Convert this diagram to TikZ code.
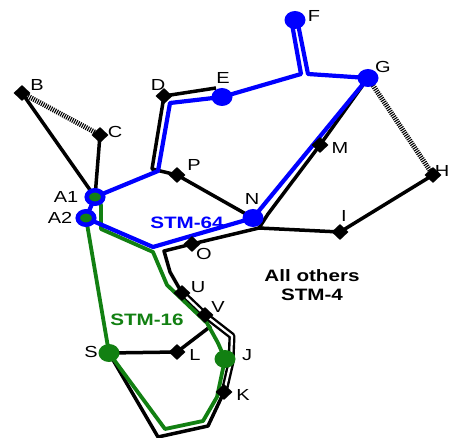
\documentclass[tikz,border=0pt]{standalone}
\usepackage{fontspec}
\setmainfont{Liberation Sans}
\usepackage{graphicx}
\usetikzlibrary{shapes.geometric}
\definecolor{myblue}{RGB}{0,0,255}
\definecolor{mygreen}{RGB}{18,128,18}
\newcommand{\wide}[1]{\scalebox{1.25}[1]{#1}}
\pgfdeclarelayer{bg}
\pgfsetlayers{bg,main}
\begin{document}
\begin{tikzpicture}[x=1pt,y=-1pt,
  blk/.style={line width=3.5pt, black, line join=round},
  blu/.style={line width=4.2pt, myblue, line join=round},
  grn/.style={line width=3.8pt, mygreen, line join=round},
  hatch/.style={line width=5pt, black, dash pattern=on 1.1pt off 1.1pt},
  dbl/.style={line width=2.4pt, black, double=white, double distance=2.2pt, line join=round},
  dia/.style={diamond, fill=black, inner sep=0pt, minimum width=17pt, minimum height=16pt},
  bdot/.style={ellipse, fill=myblue, inner sep=0pt, minimum width=21pt, minimum height=18pt},
  gdot/.style={ellipse, fill=mygreen, inner sep=0pt, minimum width=21pt, minimum height=18pt},
  ring/.style={ellipse, fill=mygreen, draw=myblue, line width=4.5pt, inner sep=0pt, minimum width=16.5pt, minimum height=13.5pt},
  lab/.style={font=\fontsize{16}{18}\selectfont, inner sep=0pt},
  ttl/.style={font=\bfseries\fontsize{16.5}{20}\selectfont, inner sep=0pt, align=center}
]
\useasboundingbox (0,0) rectangle (450,438);

% nodes
\node[dia] (B) at (22,93) {};
\node[dia] (C) at (100,135) {};
\node[dia] (D) at (164,96) {};
\node[bdot] (E) at (222,97) {};
\node[bdot] (F) at (295,20) {};
\node[bdot] (G) at (368,78) {};
\node[dia] (M) at (320,145) {};
\node[dia] (H) at (433,175) {};
\node[dia] (P) at (177,175) {};
\node[bdot] (N) at (253,218) {};
\node[dia] (I) at (340,232) {};
\node[dia] (O) at (192,244) {};
\node[dia] (U) at (182,293) {};
\node[dia] (V) at (205,315) {};
\node[dia] (L) at (177,352) {};
\node[gdot] (S) at (109,353) {};
\node[gdot] (J) at (225,359) {};
\node[dia] (K) at (224,392) {};
\node[ring] (A1) at (95,197) {};
\node[ring] (A2) at (86,218) {};

% free-end coordinates
\coordinate (dE) at (216,88);
\coordinate (dC) at (152,169);
\coordinate (bC) at (158,171);
\coordinate (bD) at (170,103);
\coordinate (fL1) at (301,74);
\coordinate (fL2) at (292,24);
\coordinate (fR1) at (298,24);
\coordinate (fR2) at (308,74);
\coordinate (Mc) at (268,214);
\coordinate (Nj) at (259,228);
\coordinate (o1) at (164,251);
\coordinate (o2) at (170,272);
\coordinate (vj) at (211,326);
\coordinate (d1) at (232,336);
\coordinate (d2) at (231,362);
\coordinate (k1) at (208,426);
\coordinate (k2) at (158,437);
\coordinate (a2b) at (153,247);
\coordinate (g1) at (101,205);
\coordinate (g2) at (101,229);
\coordinate (g3) at (153,252);
\coordinate (g4) at (167,285);
\coordinate (g5) at (207,323);
\coordinate (g6) at (218,343);
\coordinate (g7) at (217,397);
\coordinate (g8) at (203,421);
\coordinate (g9) at (165,429);

\begin{pgfonlayer}{bg}
% black links
\draw[blk] (B.center) -- (A1.center);
\draw[blk] (C.center) -- (A1.center);
\draw[hatch] (B.center) -- (C.center);
\draw[hatch] (G.center) -- (H.center);
\draw[blk] (D.center) -- (dE);
\draw[blk] (D.center) -- (dC) -- (P.center) -- (N.center);
\draw[blk] (G.center) -- (M.center) -- (Mc) -- (Nj) -- (I.center) -- (H.center);
\draw[blk] (Nj) -- (O.center) -- (o1) -- (o2) -- (U.center);
\draw[blk] (S.center) -- (L.center) -- (vj);
\draw[blk] (K.center) -- (k1) -- (k2) -- (S.center);
\draw[dbl] (U.center) -- (V.center) -- (d1) -- (d2) -- (K.center);
% green ring
\draw[grn] (A1.center) -- (g1) -- (g2) -- (g3) -- (g4) -- (g5) -- (g6) -- (J.center)
  -- (g7) -- (g8) -- (g9) -- (S.center) -- (A2.center);
% blue ring
\draw[blu] (A1.center) -- (bC) -- (bD) -- (E.center) -- (fL1) -- (fL2);
\draw[blu] (fR1) -- (fR2) -- (G.center) -- (N.center) -- (a2b) -- (A2.center);
\draw[blu] (A1.center) -- (A2.center);
\end{pgfonlayer}

% labels
\node[lab] (tB) at (37,85) {\wide{B}};
\node[lab] (tC) at (115,132) {\wide{C}};
\node[lab] (tD) at (158,85) {\wide{D}};
\node[lab] (tE) at (223,78) {\wide{E}};
\node[lab] (tF) at (314,16) {\wide{F}};
\node[lab] (tG) at (383,67) {\wide{G}};
\node[lab] (tM) at (340,148) {\wide{M}};
\node[lab,anchor=east] (tH) at (449.5,171) {\wide{H}};
\node[lab] (tP) at (194,165) {\wide{P}};
\node[lab] (tN) at (252,199) {\wide{N}};
\node[lab] (tI) at (344,216) {\wide{I}};
\node[lab] (tO) at (204,254) {\wide{O}};
\node[lab] (tU) at (198,287) {\wide{U}};
\node[lab] (tV) at (218,307) {\wide{V}};
\node[lab] (tL) at (195,355) {\wide{L}};
\node[lab] (tJ) at (247,355) {\wide{J}};
\node[lab] (tK) at (243,395) {\wide{K}};
\node[lab] (tS) at (91,352) {\wide{S}};
\node[lab] (tA1) at (66,197) {\wide{A1}};
\node[lab] (tA2) at (60,218) {\wide{A2}};

\node[ttl, text=myblue] (t64) at (187,223) {\wide{STM-64}};
\node[ttl, text=mygreen] (t16) at (147,320) {\wide{STM-16}};
\node[ttl] (tall) at (312,285) {\wide{All others}\\[-1pt]\wide{STM-4}};
\end{tikzpicture}
\end{document}
